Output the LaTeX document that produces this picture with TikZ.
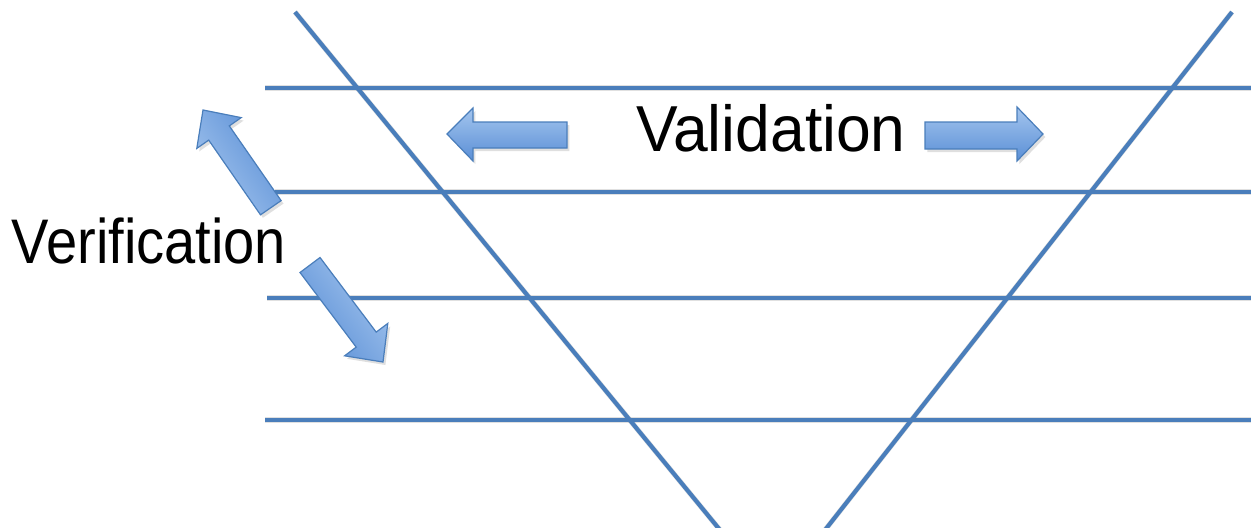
\documentclass[tikz,border=0pt]{standalone}
\usepackage{fontspec}
\usepackage{graphicx}
\setmainfont{Liberation Sans}
\usetikzlibrary{shadows}
\definecolor{linkblue}{HTML}{4A7EBB}
\definecolor{arrowlight}{HTML}{A4C5EE}
\definecolor{arrowdark}{HTML}{5A8FD6}
\definecolor{arrowedge}{HTML}{4A7EBB}
\tikzset{
  vline/.style={draw=linkblue, line width=2.1pt},
  vshadow/.style={draw=black, opacity=0.12, line width=2.6pt},
  blockarrow/.style={draw=arrowedge, line width=0.6pt, line join=miter,
    top color=arrowlight, bottom color=arrowdark,
    drop shadow={shadow xshift=1.2pt, shadow yshift=-1.5pt, opacity=0.25}},
  label/.style={text=black, inner sep=0pt, anchor=base}
}
\begin{document}
\begin{tikzpicture}[x=0.5pt, y=-0.5pt]
  \useasboundingbox (0,0) rectangle (1251,527);
  \fill[white] (0,0) rectangle (1251,527);

  % end points of the two diagonals and the four levels
  \coordinate (dlt) at (295,12);   \coordinate (dlb) at (720,530);
  \coordinate (drt) at (1232,12);  \coordinate (drb) at (825,530);
  \coordinate (h1a) at (265,88);   \coordinate (h1b) at (1251,88);
  \coordinate (h2a) at (275,192);  \coordinate (h2b) at (1251,192);
  \coordinate (h3a) at (267,298);  \coordinate (h3b) at (1251,298);
  \coordinate (h4a) at (265,420);  \coordinate (h4b) at (1251,420);

  % soft shadows under the lines
  \begin{scope}[shift={(2,3)}]
    \foreach \a/\b in {dlt/dlb, drt/drb, h1a/h1b, h2a/h2b, h3a/h3b, h4a/h4b}
      \draw[vshadow] (\a) -- (\b);
  \end{scope}

  % the lines
  \foreach \a/\b in {h1a/h1b, h2a/h2b, h3a/h3b, h4a/h4b, dlt/dlb, drt/drb}
    \draw[vline] (\a) -- (\b);

  % block arrows around "Validation"
  \path[blockarrow] (447,134) -- (473,108) -- (473,122) -- (567,122)
    -- (567,148) -- (473,148) -- (473,161) -- cycle;
  \path[blockarrow] (1043,134) -- (1017,107) -- (1017,122) -- (925,122)
    -- (925,149) -- (1017,149) -- (1017,161) -- cycle;

  % block arrows around "Verification", shaded across their width
  \path[blockarrow, shading angle=125] (203,110) -- (241.2,117.6) -- (229.3,125.9)
    -- (281.1,200.6) -- (260.5,214.8) -- (208.7,140.1) -- (196.8,148.4) -- cycle;
  \path[blockarrow, shading angle=-53] (383,362) -- (387.8,323.4) -- (376.2,332.1)
    -- (320,257.5) -- (300,272.5) -- (356.2,347.1) -- (344.6,355.8) -- cycle;

  % labels
  \node[label] (val) at (771,151.7)
    {\fontsize{32.5pt}{36pt}\selectfont\scalebox{0.96}[1]{Validation}};
  \node[label] (ver) at (149,263)
    {\fontsize{31.5pt}{36pt}\selectfont\scalebox{0.89}[1]{Verification}};
\end{tikzpicture}
\end{document}
